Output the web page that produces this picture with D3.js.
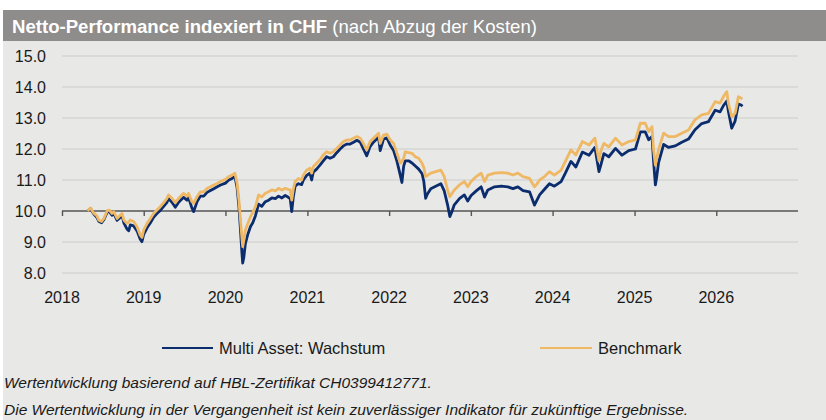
<!DOCTYPE html>
<html>
<head>
<meta charset="utf-8">
<script src="https://cdn.jsdelivr.net/npm/d3@7"></script>
<style>
  html, body { margin: 0; padding: 0; background: #ffffff; }
  svg { display: block; font-family: "Liberation Sans", Arial, sans-serif; }
</style>
</head>
<body>
<svg id="chart" width="826" height="420"></svg>
<script>
// ---------- data ----------
const titleBold = "Netto-Performance indexiert in CHF";
const titleRest = " (nach Abzug der Kosten)";
const seriesNames = ["Multi Asset: Wachstum", "Benchmark"];
const yTicks = [8, 9, 10, 11, 12, 13, 14, 15];
const xTicks = [2018, 2019, 2020, 2021, 2022, 2023, 2024, 2025, 2026];
const footnotes = [
  "Wertentwicklung basierend auf HBL-Zertifikat CH0399412771.",
  "Die Wertentwicklung in der Vergangenheit ist kein zuverlässiger Indikator für zukünftige Ergebnisse."
];

const dates = [
  "2018-04-25","2018-05-08","2018-05-23","2018-06-05","2018-06-15","2018-06-27","2018-07-07","2018-07-22","2018-08-01","2018-08-12",
  "2018-08-20","2018-09-04","2018-09-19","2018-09-26","2018-10-04","2018-10-18","2018-10-26","2018-11-02","2018-11-17","2018-12-02",
  "2018-12-16","2018-12-24","2019-01-01","2019-01-16","2019-01-31","2019-02-14","2019-03-01","2019-03-16","2019-03-31","2019-04-15",
  "2019-04-22","2019-05-07","2019-05-22","2019-06-06","2019-06-28","2019-07-13","2019-07-20","2019-08-04","2019-08-12","2019-08-27",
  "2019-09-11","2019-09-26","2019-10-11","2019-10-26","2019-11-10","2019-11-25","2019-12-10","2020-01-01","2020-01-16","2020-01-31",
  "2020-02-12","2020-02-22","2020-03-01","2020-03-08","2020-03-14","2020-03-18","2020-03-23","2020-03-30","2020-04-10","2020-04-22",
  "2020-05-02","2020-05-14","2020-05-28","2020-06-11","2020-06-27","2020-07-12","2020-07-26","2020-08-11","2020-08-25","2020-09-09",
  "2020-09-24","2020-10-06","2020-10-16","2020-10-23","2020-10-30","2020-11-07","2020-11-22","2020-12-06","2020-12-14","2020-12-29",
  "2021-01-12","2021-01-20","2021-01-27","2021-02-11","2021-02-26","2021-03-13","2021-03-28","2021-04-12","2021-04-27","2021-05-12",
  "2021-05-27","2021-06-11","2021-06-26","2021-07-11","2021-07-26","2021-08-10","2021-08-25","2021-09-08","2021-09-23","2021-10-08",
  "2021-10-23","2021-11-07","2021-11-15","2021-11-22","2021-12-07","2021-12-22","2022-01-06","2022-01-21","2022-02-05","2022-02-20",
  "2022-02-27","2022-03-07","2022-03-14","2022-03-29","2022-04-13","2022-04-28","2022-05-13","2022-05-28","2022-06-05","2022-06-13",
  "2022-06-21","2022-07-06","2022-07-28","2022-08-20","2022-09-04","2022-09-19","2022-09-29","2022-10-07","2022-10-19","2022-11-11",
  "2022-12-03","2022-12-18","2023-01-02","2023-01-25","2023-02-16","2023-03-03","2023-03-18","2023-04-17","2023-05-17","2023-06-15",
  "2023-07-08","2023-07-30","2023-08-22","2023-09-20","2023-10-12","2023-10-21","2023-11-04","2023-11-26","2023-12-18","2024-01-09",
  "2024-02-08","2024-02-27","2024-03-23","2024-04-14","2024-05-13","2024-06-12","2024-07-08","2024-07-26","2024-08-04","2024-08-17",
  "2024-09-08","2024-10-08","2024-11-06","2024-12-06","2025-01-05","2025-01-27","2025-02-18","2025-03-05","2025-03-20","2025-03-27",
  "2025-04-04","2025-04-10","2025-04-18","2025-05-11","2025-06-02","2025-07-02","2025-07-31","2025-08-30","2025-09-28","2025-10-28",
  "2025-11-27","2025-12-27","2026-01-18","2026-02-02","2026-02-17","2026-02-24","2026-03-11","2026-03-26","2026-04-10","2026-04-22",
  "2026-04-28"
];

const benchmark = [
  10.00,10.10,9.93,9.85,9.70,9.66,9.76,10.01,10.03,9.92,
  9.98,9.76,9.87,9.92,9.71,9.60,9.65,9.71,9.66,9.49,
  9.23,9.15,9.39,9.60,9.76,9.92,10.03,10.14,10.27,10.41,
  10.52,10.41,10.27,10.41,10.57,10.48,10.57,10.30,10.25,10.46,
  10.62,10.62,10.73,10.78,10.84,10.89,10.95,11.02,11.11,11.16,
  11.22,10.89,10.35,9.71,9.17,8.85,9.05,9.39,9.60,9.82,
  9.95,10.14,10.52,10.45,10.57,10.62,10.68,10.65,10.73,10.68,
  10.73,10.70,10.68,10.35,10.70,10.95,11.05,11.00,11.16,11.32,
  11.38,11.22,11.43,11.54,11.65,11.81,11.91,11.86,11.91,12.02,
  12.13,12.24,12.29,12.29,12.35,12.40,12.35,12.18,11.97,12.24,
  12.35,12.45,12.51,12.18,12.45,12.48,12.29,12.18,11.86,11.54,
  11.60,11.70,11.91,11.88,11.86,11.75,11.70,11.54,11.40,11.11,
  11.15,11.22,11.27,11.32,11.11,10.68,10.46,10.55,10.68,10.84,
  10.95,10.78,10.95,11.11,11.22,10.95,11.16,11.22,11.24,11.22,
  11.16,11.22,11.11,11.05,10.78,10.85,11.00,11.11,11.27,11.16,
  11.32,11.60,11.97,11.81,12.24,12.13,12.35,11.62,11.95,12.18,
  12.07,12.35,12.13,12.24,12.29,12.83,12.83,12.56,12.72,11.97,
  11.48,11.70,11.97,12.51,12.40,12.40,12.51,12.61,12.94,13.10,
  13.15,13.53,13.48,13.69,13.85,13.48,13.04,13.15,13.69,13.64,
  13.62
];

const fund = [
  10.00,10.08,9.90,9.80,9.66,9.62,9.72,9.96,9.98,9.86,
  9.92,9.70,9.80,9.86,9.62,9.42,9.36,9.55,9.52,9.36,
  9.10,9.01,9.25,9.46,9.62,9.80,9.92,10.02,10.15,10.28,
  10.40,10.28,10.12,10.28,10.44,10.35,10.44,10.10,9.98,10.30,
  10.48,10.48,10.60,10.66,10.72,10.78,10.84,10.90,11.00,11.05,
  11.12,10.75,10.15,9.40,8.70,8.32,8.50,8.95,9.25,9.50,
  9.62,9.85,10.22,10.15,10.30,10.35,10.42,10.40,10.48,10.42,
  10.50,10.45,10.40,9.98,10.45,10.80,10.88,10.85,11.00,11.15,
  11.22,11.00,11.25,11.35,11.48,11.62,11.75,11.70,11.75,11.88,
  12.00,12.10,12.16,12.16,12.22,12.28,12.22,12.00,11.78,12.08,
  12.22,12.32,12.38,11.95,12.32,12.36,12.12,11.95,11.60,11.15,
  10.92,11.45,11.62,11.62,11.55,11.45,11.35,11.20,10.95,10.41,
  10.55,10.72,10.80,10.88,10.65,10.20,9.82,9.95,10.20,10.40,
  10.52,10.32,10.50,10.65,10.78,10.45,10.68,10.78,10.80,10.78,
  10.72,10.78,10.66,10.62,10.19,10.32,10.52,10.70,10.88,10.80,
  10.95,11.22,11.60,11.42,11.90,11.80,12.05,11.27,11.50,11.85,
  11.75,12.02,11.80,11.95,12.00,12.55,12.55,12.30,12.40,11.60,
  10.84,11.10,11.55,12.15,12.05,12.10,12.22,12.32,12.62,12.82,
  12.88,13.25,13.20,13.40,13.55,13.22,12.67,12.90,13.45,13.42,
  13.38
];

// ---------- layout ----------
const svg = d3.select("#chart");
const W = 826, H = 420;
const colors = { fund: "#0b2d6e", bench: "#efb865" };

svg.append("rect").attr("x", 3).attr("y", 10).attr("width", W - 3).attr("height", H - 10).attr("fill", "#e8e8e6");
svg.append("rect").attr("x", 3).attr("y", 10).attr("width", W - 3).attr("height", 31).attr("fill", "#8e8d8b");

const title = svg.append("text").attr("x", 12).attr("y", 32.5).attr("fill", "#ffffff").attr("font-size", 18.6);
title.append("tspan").attr("font-weight", "bold").text(titleBold);
title.append("tspan").text(titleRest);

const parse = d3.timeParse("%Y-%m-%d");
const x = d3.scaleTime().domain([new Date(2018, 0, 1), new Date(2027, 0, 1)]).range([62, 798]);
const y = d3.scaleLinear().domain([8, 15]).range([273, 56]);

// gridlines
svg.append("g").selectAll("line").data(yTicks.filter(v => v !== 10)).join("line")
  .attr("x1", 62).attr("x2", 798)
  .attr("y1", d => y(d)).attr("y2", d => y(d))
  .attr("stroke", "#d6d6d4").attr("stroke-width", 1.5);

// y labels
svg.append("g").selectAll("text").data(yTicks).join("text")
  .attr("x", 46).attr("y", d => y(d) + 6)
  .attr("text-anchor", "end").attr("font-size", 16).attr("fill", "#1a1a1a")
  .text(d => d3.format(".1f")(d));

// x axis at 10.0
const xAxis = d3.axisBottom(x)
  .tickValues(xTicks.map(yr => new Date(yr, 0, 1)))
  .tickSize(5).tickFormat("");
const gx = svg.append("g").attr("transform", `translate(0,${y(10)})`).call(xAxis);
gx.select(".domain").attr("stroke", "#555555").attr("stroke-width", 1.6).attr("d", `M62,0H798`);
gx.selectAll(".tick line").attr("stroke", "#555555").attr("stroke-width", 1.4);

// x labels
svg.append("g").selectAll("text").data(xTicks).join("text")
  .attr("x", d => x(new Date(d, 0, 1))).attr("y", 303)
  .attr("text-anchor", "middle").attr("font-size", 16).attr("fill", "#1a1a1a")
  .text(d => d);

// lines
const fundData = dates.map((d, i) => ({ date: parse(d), v: fund[i] }));
const benchData = dates.map((d, i) => ({ date: parse(d), v: benchmark[i] }));
const line = d3.line().x(d => x(d.date)).y(d => y(d.v));

svg.append("path").datum(fundData).attr("d", line)
  .attr("fill", "none").attr("stroke", colors.fund).attr("stroke-width", 2.8).attr("stroke-linejoin", "round");
svg.append("path").datum(benchData).attr("d", line)
  .attr("fill", "none").attr("stroke", colors.bench).attr("stroke-width", 2.8).attr("stroke-linejoin", "round");

// legend
const legend = [
  { name: seriesNames[0], color: colors.fund, x1: 162, x2: 213, tx: 219 },
  { name: seriesNames[1], color: colors.bench, x1: 540, x2: 592, tx: 598 }
];
const lg = svg.append("g").selectAll("g").data(legend).join("g");
lg.append("line").attr("x1", d => d.x1).attr("x2", d => d.x2).attr("y1", 348).attr("y2", 348)
  .attr("stroke", d => d.color).attr("stroke-width", 2);
lg.append("text").attr("x", d => d.tx).attr("y", 354).attr("font-size", 16.5).attr("fill", "#1a1a1a").text(d => d.name);

// footnotes
svg.append("g").selectAll("text").data(footnotes).join("text")
  .attr("x", 4).attr("y", (d, i) => 388 + i * 27)
  .attr("font-size", 15.5).attr("font-style", "italic").attr("fill", "#1a1a1a")
  .text(d => d);
</script>
</body>
</html>
